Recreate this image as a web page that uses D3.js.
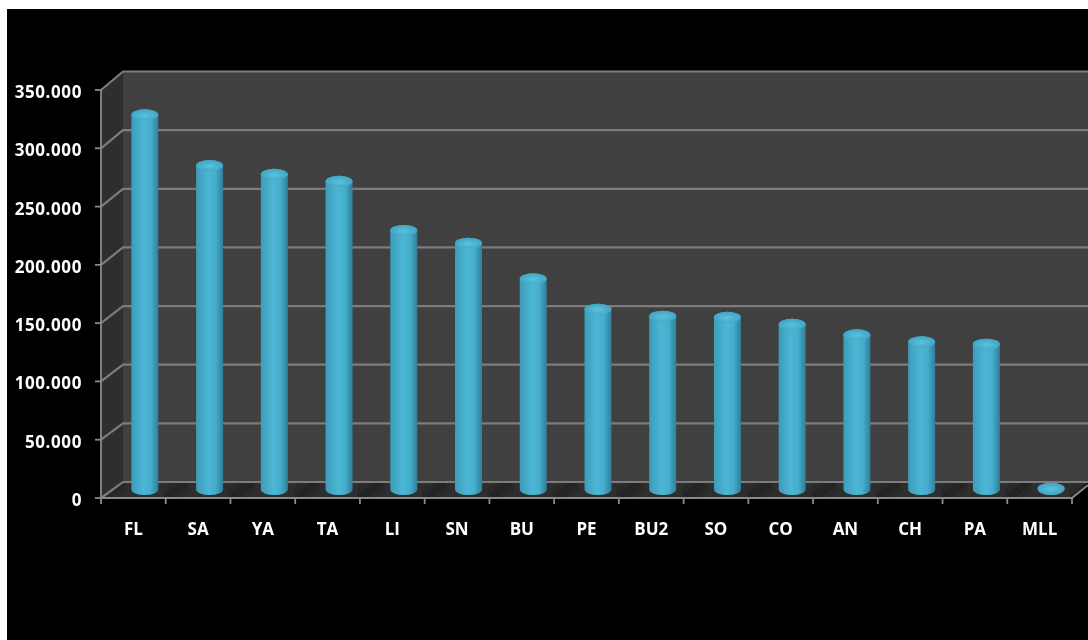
<!DOCTYPE html>
<html>
<head>
<meta charset="utf-8">
<script src="https://cdnjs.cloudflare.com/ajax/libs/d3/7.8.5/d3.min.js"></script>
<style>
html,body{margin:0;padding:0;background:#fff;overflow:hidden}
svg{display:block}
text{font-family:"Open Sans",sans-serif;font-weight:700;fill:#fff;font-size:17px}
</style>
</head>
<body>
<div id="chart"></div>
<script>
const categories = ["FL","SA","YA","TA","LI","SN","BU","PE","BU2","SO","CO","AN","CH","PA","MLL"];
const values = [321000,277500,270000,264000,222000,211000,180500,154500,148500,147500,141500,132500,126500,124500,1000];
const yTicks = [0,50000,100000,150000,200000,250000,300000,350000];

const W = 1088, H = 640;
const svg = d3.select("#chart").append("svg").attr("width",W).attr("height",H);
const fmt = d3.formatLocale({decimal:",",thousands:".",grouping:[3],currency:["",""]}).format(",d");

// front plane, back plane and the plane where the cylinders stand
const x = d3.scaleBand().domain(categories).range([101,1072]);
const yFront = d3.scaleLinear().domain([0,350000]).range([498,90]);
const yBack  = d3.scaleLinear().domain([0,350000]).range([482,71.5]);
const yMid   = d3.scaleLinear().domain([0,350000]).range([489.5,81]);
const backDx = 22, midDx = 11.5, rx = 13.5, ry = 5.5;

svg.append("rect").attr("x",7).attr("y",9).attr("width",W-7).attr("height",H-9).attr("fill","#000");

const defs = svg.append("defs");
const body = defs.append("linearGradient").attr("id","body");
[[0,"#3c9cb9"],[0.45,"#4cb6d5"],[0.72,"#45aecd"],[1,"#2f7f98"]]
  .forEach(([o,c])=>body.append("stop").attr("offset",o).attr("stop-color",c));
const cap = defs.append("radialGradient").attr("id","cap").attr("cx","0.5").attr("cy","0.55").attr("r","0.6");
[[0,"#5cc2dc"],[0.6,"#47aecc"],[1,"#3fa2c0"]]
  .forEach(([o,c])=>cap.append("stop").attr("offset",o).attr("stop-color",c));
defs.append("filter").attr("id","soft").append("feGaussianBlur").attr("stdDeviation",2.5);
defs.append("filter").attr("id","fine").append("feGaussianBlur").attr("stdDeviation",0.45);
defs.append("clipPath").attr("id","floorClip").append("polygon")
  .attr("points",[[x.range()[0],yFront(0)],[x.range()[0]+backDx,yBack(0)],[W,yBack(0)],[x.range()[1],yFront(0)]].join(" "));

const x0 = x.range()[0], x1 = x.range()[1];
const root = svg.append("g").attr("filter","url(#fine)");

// walls
root.append("polygon").attr("fill","#404040")
  .attr("points",[[x0+backDx,yBack(350000)],[W+5,yBack(350000)],[W+5,yBack(0)],[x0+backDx,yBack(0)]].join(" "));
root.append("polygon").attr("fill","#2e2e2e")
  .attr("points",[[x0,yFront(0)],[x0,yFront(350000)],[x0+backDx,yBack(350000)],[x0+backDx,yBack(0)]].join(" "));
// floor
root.append("polygon").attr("fill","#2d2d2d")
  .attr("points",[[x0,yFront(0)],[x0+backDx,yBack(0)],[W,yBack(0)],[x1,yFront(0)]].join(" "));
const bands = categories.map(c=>x(c));
root.append("g").attr("clip-path","url(#floorClip)").selectAll("line").data(bands.concat([x1])).join("line")
  .attr("x1",d=>d).attr("y1",yFront(0)).attr("x2",d=>d+backDx).attr("y2",yBack(0))
  .attr("stroke","#202020").attr("stroke-width",8).attr("filter","url(#soft)");

// gridlines
const grid = root.append("g").attr("fill","none").attr("stroke","#7c7c7c").attr("stroke-width",2.2);
yTicks.forEach(t=>{
  grid.append("path").attr("d",`M${x0},${yFront(t)}L${x0+backDx},${yBack(t)}L${W+5},${yBack(t)}`);
});
// axes
const axis = root.append("g").attr("stroke","#8a8a8a").attr("stroke-width",1.8).attr("fill","none");
axis.append("path").attr("d",`M${x0},${yFront(350000)}V${yFront(0)}H${x1}L${W},${yBack(0)+3}`);
axis.selectAll(".ty").data(yTicks).join("line").attr("x1",x0-6).attr("x2",x0).attr("y1",d=>yFront(d)).attr("y2",d=>yFront(d));
axis.selectAll(".tx").data(bands.concat([x1])).join("line").attr("x1",d=>d).attr("x2",d=>d).attr("y1",yFront(0)).attr("y2",yFront(0)+6);

// cylinders
const cx = c => x(c)+x.bandwidth()/2+midDx;
const bars = root.append("g").selectAll("g").data(categories.map((c,i)=>({c,v:values[i]}))).join("g");
bars.append("path").attr("fill","url(#body)").attr("d",d=>{
  const X=cx(d.c), top=yMid(d.v), base=yMid(0);
  return `M${X-rx},${top}V${base}A${rx},${ry} 0 0 0 ${X+rx},${base}V${top}A${rx},${ry} 0 0 0 ${X-rx},${top}Z`;
});
bars.append("ellipse").attr("cx",d=>cx(d.c)).attr("cy",d=>yMid(d.v)).attr("rx",rx).attr("ry",ry).attr("fill","url(#cap)");

// labels
root.append("g").attr("text-anchor","end").selectAll("text").data(yTicks).join("text")
  .attr("x",82).attr("y",d=>yFront(d)+3.5).attr("dominant-baseline","middle")
  .attr("letter-spacing",0.6).text(d=>fmt(d));
root.append("g").attr("text-anchor","middle").selectAll("text").data(categories).join("text")
  .attr("x",d=>x(d)+x.bandwidth()/2).attr("y",530.5).attr("dominant-baseline","middle").text(d=>d);
</script>
</body>
</html>
